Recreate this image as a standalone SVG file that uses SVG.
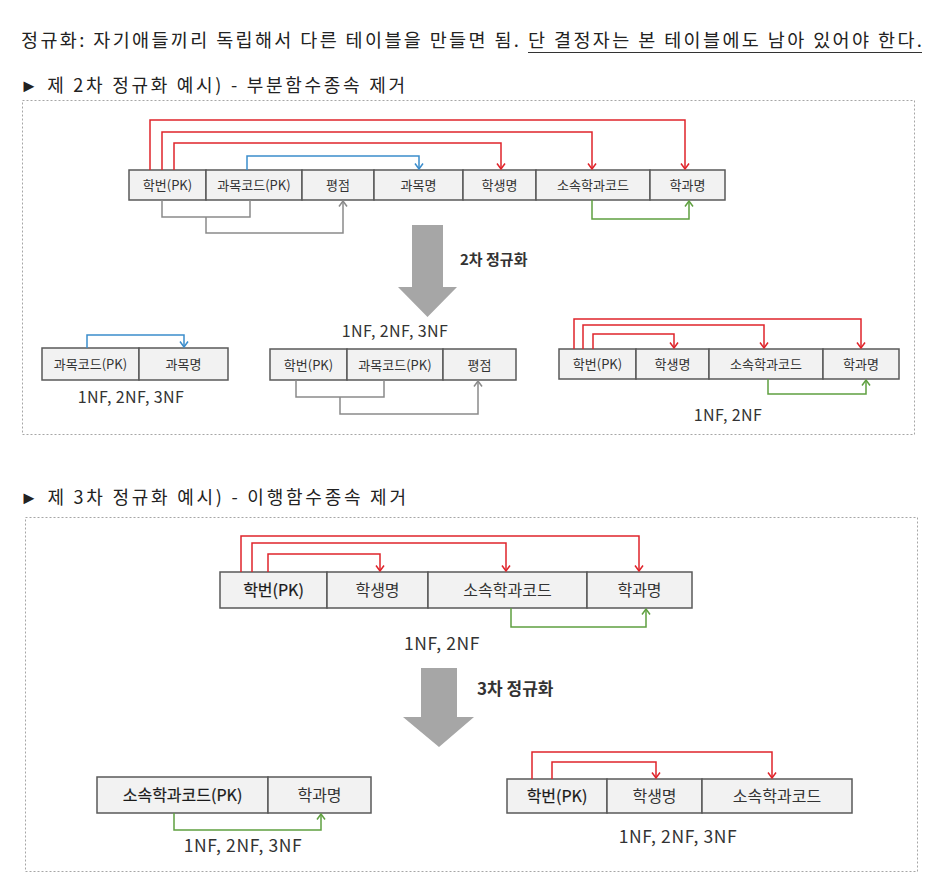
<svg xmlns="http://www.w3.org/2000/svg" width="942" height="886" viewBox="0 0 942 886">
<defs>
<style>
text{font-family:"Noto Sans CJK KR","Noto Sans",sans-serif;fill:#333}
.t{font-size:18.5px;fill:#222}
.h{font-size:18px;fill:#222}
.c2{font-size:13px;text-anchor:middle}
.c3{font-size:16px;text-anchor:middle}
.nf2{font-size:16px;text-anchor:middle;letter-spacing:0.4px}
.nf3{font-size:17.5px;text-anchor:middle;letter-spacing:0.6px}
.pk{fill:#1a1a1a;stroke:#1a1a1a;stroke-width:0.2}
.cell{fill:#f2f2f2;stroke:#595959;stroke-width:1.5}
.box{fill:none;stroke:#a6a6a6;stroke-width:1;stroke-dasharray:2 2}
.big{fill:#a6a6a6}
.r{fill:none;stroke:#e0242b;stroke-width:1.5;marker-end:url(#mr)}
.b{fill:none;stroke:#3b8dcc;stroke-width:1.5;marker-end:url(#mb)}
.g{fill:none;stroke:#5fa040;stroke-width:1.5;marker-end:url(#mg)}
.k{fill:none;stroke:#8a8a8a;stroke-width:1.5}
.ka{fill:none;stroke:#8a8a8a;stroke-width:1.5;marker-end:url(#mk)}
.lbl{font-weight:bold;fill:#333}
</style>
<marker id="mr" viewBox="-7 -5 8 10" refX="0" refY="0" markerWidth="8" markerHeight="10" markerUnits="userSpaceOnUse" orient="auto"><path d="M-5.5,-4 L0,0 L-5.5,4" fill="none" stroke="#e0242b" stroke-width="1.5"/></marker>
<marker id="mb" viewBox="-7 -5 8 10" refX="0" refY="0" markerWidth="8" markerHeight="10" markerUnits="userSpaceOnUse" orient="auto"><path d="M-5.5,-4 L0,0 L-5.5,4" fill="none" stroke="#3b8dcc" stroke-width="1.5"/></marker>
<marker id="mg" viewBox="-7 -5 8 10" refX="0" refY="0" markerWidth="8" markerHeight="10" markerUnits="userSpaceOnUse" orient="auto"><path d="M-5.5,-4 L0,0 L-5.5,4" fill="none" stroke="#5fa040" stroke-width="1.5"/></marker>
<marker id="mk" viewBox="-7 -5 8 10" refX="0" refY="0" markerWidth="8" markerHeight="10" markerUnits="userSpaceOnUse" orient="auto"><path d="M-5.5,-4 L0,0 L-5.5,4" fill="none" stroke="#8a8a8a" stroke-width="1.5"/></marker>
</defs>
<rect width="942" height="886" fill="#fff"/>

<g id="title">
<text class="t" x="21" y="47" textLength="498" lengthAdjust="spacing">정규화: 자기애들끼리 독립해서 다른 테이블을 만들면 됨.</text>
<text class="t" x="528" y="47" textLength="394" lengthAdjust="spacing">단 결정자는 본 테이블에도 남아 있어야 한다.</text>
<line x1="528" y1="52.5" x2="922" y2="52.5" stroke="#333" stroke-width="1.2"/>
</g>

<g id="header2"><text class="h" x="20" y="92" textLength="385" lengthAdjust="spacing">► 제 2차 정규화 예시) - 부분함수종속 제거</text></g>
<rect id="frame2" class="box" x="22.5" y="100.5" width="892" height="334"/>

<g id="table2-full">
<rect class="cell" x="129" y="170" width="77" height="30"/><text class="c2" x="167.5" y="190">학번(PK)</text>
<rect class="cell" x="206" y="170" width="96" height="30"/><text class="c2" x="254" y="190">과목코드(PK)</text>
<rect class="cell" x="302" y="170" width="72" height="30"/><text class="c2" x="338" y="190">평점</text>
<rect class="cell" x="374" y="170" width="89" height="30"/><text class="c2" x="418.5" y="190">과목명</text>
<rect class="cell" x="463" y="170" width="73" height="30"/><text class="c2" x="499.5" y="190">학생명</text>
<rect class="cell" x="536" y="170" width="114" height="30"/><text class="c2" x="593" y="190">소속학과코드</text>
<rect class="cell" x="650" y="170" width="75" height="30"/><text class="c2" x="687.5" y="190">학과명</text>
</g>

<g id="arrow2">
<polygon class="big" points="412,225 443,225 443,287 457,287 427.5,317 398,287 412,287"/>
<text class="lbl" x="460" y="265" font-size="15">2차 정규화</text>
</g>
<text id="nf-2b" class="nf2" x="395" y="337">1NF, 2NF, 3NF</text>

<g id="table2-subject">
<rect class="cell" x="42" y="348" width="97" height="32"/><text class="c2" x="90.5" y="369">과목코드(PK)</text>
<rect class="cell" x="139" y="348" width="89" height="32"/><text class="c2" x="183.5" y="369">과목명</text>
</g>
<text id="nf-2a" class="nf2" x="131" y="403">1NF, 2NF, 3NF</text>

<g id="table2-grade">
<rect class="cell" x="270" y="349" width="77" height="31"/><text class="c2" x="308.5" y="369.5">학번(PK)</text>
<rect class="cell" x="347" y="349" width="96" height="31"/><text class="c2" x="395" y="369.5">과목코드(PK)</text>
<rect class="cell" x="443" y="349" width="73" height="31"/><text class="c2" x="479.5" y="369.5">평점</text>
</g>

<g id="table2-student">
<rect class="cell" x="559" y="349" width="77" height="30"/><text class="c2" x="597.5" y="369">학번(PK)</text>
<rect class="cell" x="636" y="349" width="73" height="30"/><text class="c2" x="672.5" y="369">학생명</text>
<rect class="cell" x="709" y="349" width="114" height="30"/><text class="c2" x="766" y="369">소속학과코드</text>
<rect class="cell" x="823" y="349" width="76" height="30"/><text class="c2" x="861" y="369">학과명</text>
</g>
<text id="nf-2c" class="nf2" x="728" y="421">1NF, 2NF</text>

<g id="header3"><text class="h" x="20" y="504" textLength="386" lengthAdjust="spacing">► 제 3차 정규화 예시) - 이행함수종속 제거</text></g>
<rect id="frame3" class="box" x="25.5" y="517.5" width="892" height="354"/>

<g id="table3-full">
<rect class="cell" x="220" y="572" width="107" height="36"/><text class="c3 pk" x="273.5" y="596">학번(PK)</text>
<rect class="cell" x="327" y="572" width="101" height="36"/><text class="c3" x="377.5" y="596">학생명</text>
<rect class="cell" x="428" y="572" width="159" height="36"/><text class="c3" x="507.5" y="596">소속학과코드</text>
<rect class="cell" x="587" y="572" width="105" height="36"/><text class="c3" x="639.5" y="596">학과명</text>
</g>
<text id="nf-3top" class="nf3" x="442" y="650">1NF, 2NF</text>

<g id="arrow3">
<polygon class="big" points="421,668 457,668 457,717 474,717 439,747 403,717 421,717"/>
<text class="lbl" x="477" y="695" font-size="17">3차 정규화</text>
</g>

<g id="table3-dept">
<rect class="cell" x="97" y="777" width="171" height="36"/><text class="c3 pk" x="182.5" y="801">소속학과코드(PK)</text>
<rect class="cell" x="268" y="777" width="103" height="36"/><text class="c3" x="319.5" y="801">학과명</text>
</g>
<text id="nf-3a" class="nf3" x="243" y="852">1NF, 2NF, 3NF</text>

<g id="table3-student">
<rect class="cell" x="507" y="779" width="100" height="34"/><text class="c3 pk" x="557" y="802">학번(PK)</text>
<rect class="cell" x="607" y="779" width="95" height="34"/><text class="c3" x="654.5" y="802">학생명</text>
<rect class="cell" x="702" y="779" width="150" height="34"/><text class="c3" x="777" y="802">소속학과코드</text>
</g>
<text id="nf-3b" class="nf3" x="678" y="843">1NF, 2NF, 3NF</text>

<g id="connectors">
<polyline class="r" points="150,170 150,120 685,120 685,169"/>
<polyline class="r" points="162,170 162,132 592,132 592,169"/>
<polyline class="r" points="174,170 174,143 501,143 501,169"/>
<polyline class="b" points="247,170 247,156 419,156 419,169"/>
<polyline class="k" points="162,200 162,217 250,217 250,200"/>
<polyline class="ka" points="206,217 206,233 343,233 343,201"/>
<polyline class="g" points="592,200 592,219 689,219 689,201"/>

<polyline class="b" points="87,348 87,335 184,335 184,347"/>
<polyline class="k" points="296,380 296,397 384,397 384,380"/>
<polyline class="ka" points="340,397 340,414 478,414 478,381"/>
<polyline class="r" points="574,349 574,319 861,319 861,348"/>
<polyline class="r" points="583,349 583,325 764,325 764,348"/>
<polyline class="r" points="593,349 593,334 674,334 674,348"/>
<polyline class="g" points="768,379 768,394 866,394 866,380"/>

<polyline class="r" points="241,572 241,536 639,536 639,571"/>
<polyline class="r" points="252,572 252,543 506,543 506,571"/>
<polyline class="r" points="268,572 268,554 380,554 380,571"/>
<polyline class="g" points="511,608 511,627 646,627 646,609"/>

<polyline class="g" points="174,813 174,830 321,830 321,814"/>
<polyline class="r" points="532,779 532,752 772,752 772,778"/>
<polyline class="r" points="552,779 552,762 656,762 656,778"/>
</g>
</svg>
